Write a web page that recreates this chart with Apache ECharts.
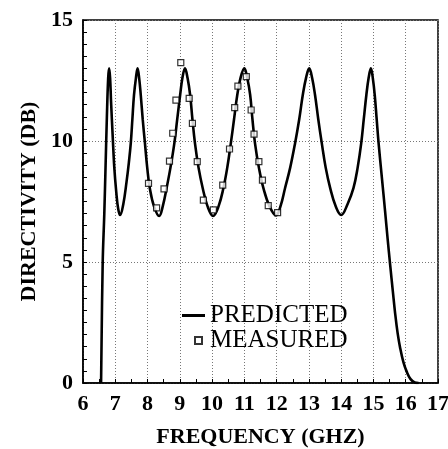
<!DOCTYPE html>
<html>
<head>
<meta charset="utf-8">
<script src="https://cdn.jsdelivr.net/npm/echarts@6/dist/echarts.min.js"></script>
<style>
  html, body { margin: 0; padding: 0; background: #fff; }
  #chart { width: 448px; height: 449px; }
</style>
</head>
<body>
<div id="chart"></div>
<script>
// predicted curve (GHz, dB)
var predFreq = [
  6.56, 6.61, 6.66, 6.70, 6.74, 6.78, 6.81, 6.84, 6.87, 6.92, 6.97, 7.03, 7.09, 7.15,
  7.25, 7.35, 7.42, 7.48, 7.53, 7.58, 7.64, 7.69, 7.74, 7.79, 7.85, 7.92, 7.99, 8.07, 8.20, 8.36,
  8.48, 8.59, 8.71, 8.83, 8.92, 9.01, 9.08, 9.16, 9.24, 9.32, 9.39, 9.47, 9.58, 9.71, 9.86, 10.03,
  10.20, 10.35, 10.47, 10.58, 10.68, 10.78, 10.88, 11.00, 11.09, 11.18, 11.25, 11.33, 11.45, 11.59, 11.78, 11.98,
  12.13, 12.26, 12.42, 12.57, 12.70, 12.81, 12.91, 13.01, 13.10, 13.19, 13.29, 13.40, 13.52, 13.66, 13.83, 14.00,
  14.20, 14.38, 14.51, 14.62, 14.70, 14.78, 14.85, 14.92, 14.98, 15.04, 15.10, 15.16, 15.26, 15.36,
  15.44, 15.52, 15.60, 15.67, 15.75, 15.83, 15.93, 16.03, 16.15, 16.28, 16.40];
var predDir = [
  0, 4.95, 7.0, 9.0, 11.0, 12.6, 13.0, 12.6, 11.6, 10.2, 8.9, 7.9, 7.2, 6.94,
  7.4, 8.32, 9.1, 9.9, 10.9, 11.9, 12.6, 13.0, 12.6, 11.9, 10.9, 9.9, 8.9, 8.05, 7.3, 6.9,
  7.35, 8.05, 8.9, 9.9, 10.9, 11.9, 12.6, 13.0, 12.6, 11.9, 10.9, 9.9, 8.9, 8.05, 7.3, 6.9,
  7.3, 8.05, 8.9, 9.9, 10.9, 11.9, 12.6, 13.0, 12.6, 11.9, 10.9, 9.9, 8.9, 8.05, 7.3, 6.92,
  7.35, 8.05, 8.9, 9.9, 10.9, 11.9, 12.6, 13.0, 12.6, 11.9, 10.9, 9.9, 8.9, 8.05, 7.3, 6.94,
  7.4, 8.05, 8.9, 9.9, 10.9, 11.9, 12.6, 13.0, 12.6, 11.9, 10.9, 9.9, 8.5, 7.1,
  5.95, 4.85, 3.8, 2.9, 2.05, 1.43, 0.85, 0.47, 0.16, 0.02, 0];

// measured points
var measFreq = [8.03, 8.28, 8.51, 8.68, 8.78, 8.88, 9.03, 9.29, 9.39, 9.54, 9.73, 10.04, 10.33, 10.54,
  10.7, 10.8, 11.06, 11.21, 11.3, 11.45, 11.56, 11.74, 12.03];
var measDir = [8.25, 7.24, 8.02, 9.17, 10.32, 11.69, 13.24, 11.76, 10.73, 9.15, 7.56, 7.15, 8.18, 9.67,
  11.38, 12.27, 12.66, 11.28, 10.28, 9.15, 8.38, 7.33, 7.04];

var serif = 'Liberation Serif';

function pairs(xs, ys) {
  var out = [];
  for (var i = 0; i < xs.length; i++) out.push([xs[i], ys[i]]);
  return out;
}

var chart = echarts.init(document.getElementById('chart'));

var gridLine = { show: true, lineStyle: { color: '#777', width: 1, type: [1, 2] } };

var option = {
  animation: false,
  backgroundColor: '#fff',
  grid: {
    left: 83, right: 10, top: 20, bottom: 66,
    outerBoundsMode: 'none',
    show: true, borderColor: '#000', borderWidth: 1.5
  },
  legend: [
    {
      data: ['PREDICTED'],
      left: 177, top: 298,
      icon: 'rect', itemWidth: 23, itemHeight: 3,
      textStyle: { fontFamily: serif, fontSize: 25, color: '#000' }
    },
    {
      data: ['MEASURED'],
      left: 189, top: 323,
      itemWidth: 7, itemHeight: 7,
      textStyle: { fontFamily: serif, fontSize: 25, color: '#000', padding: [0, 0, 0, 3] }
    }
  ],
  xAxis: {
    type: 'value', min: 6, max: 17, interval: 1,
    name: 'FREQUENCY (GHZ)', nameLocation: 'middle', nameGap: 43,
    nameTextStyle: { fontFamily: serif, fontSize: 22, fontWeight: 'bold', color: '#000' },
    axisLine: { lineStyle: { color: '#000', width: 1.5 } },
    axisTick: { inside: true, length: 4, lineStyle: { color: '#000' } },
    minorTick: { show: true, splitNumber: 2, length: 4, lineStyle: { color: '#000' } },
    axisLabel: { fontFamily: serif, fontSize: 22, fontWeight: 'bold', color: '#000', margin: 10 },
    splitLine: gridLine
  },
  yAxis: {
    type: 'value', min: 0, max: 15, interval: 5,
    name: 'DIRECTIVITY (DB)', nameLocation: 'middle', nameGap: 43, nameRotate: 90,
    nameTextStyle: { fontFamily: serif, fontSize: 22, fontWeight: 'bold', color: '#000' },
    axisLine: { lineStyle: { color: '#000', width: 1.5 } },
    axisTick: { inside: true, length: 4, lineStyle: { color: '#000' } },
    minorTick: { show: true, splitNumber: 10, length: 4, lineStyle: { color: '#000' } },
    axisLabel: { fontFamily: serif, fontSize: 22, fontWeight: 'bold', color: '#000', margin: 10 },
    splitLine: gridLine
  },
  series: [
    {
      name: 'PREDICTED', type: 'line',
      data: pairs(predFreq, predDir),
      smooth: 0.4,
      symbol: 'none',
      lineStyle: { color: '#000', width: 2.6 },
      itemStyle: { color: '#000' }
    },
    {
      name: 'MEASURED', type: 'scatter',
      data: pairs(measFreq, measDir),
      symbol: 'rect', symbolSize: 6,
      itemStyle: { color: '#fff', borderColor: '#000', borderWidth: 1.2 },
      z: 3
    }
  ]
};

chart.setOption(option);
</script>
</body>
</html>
